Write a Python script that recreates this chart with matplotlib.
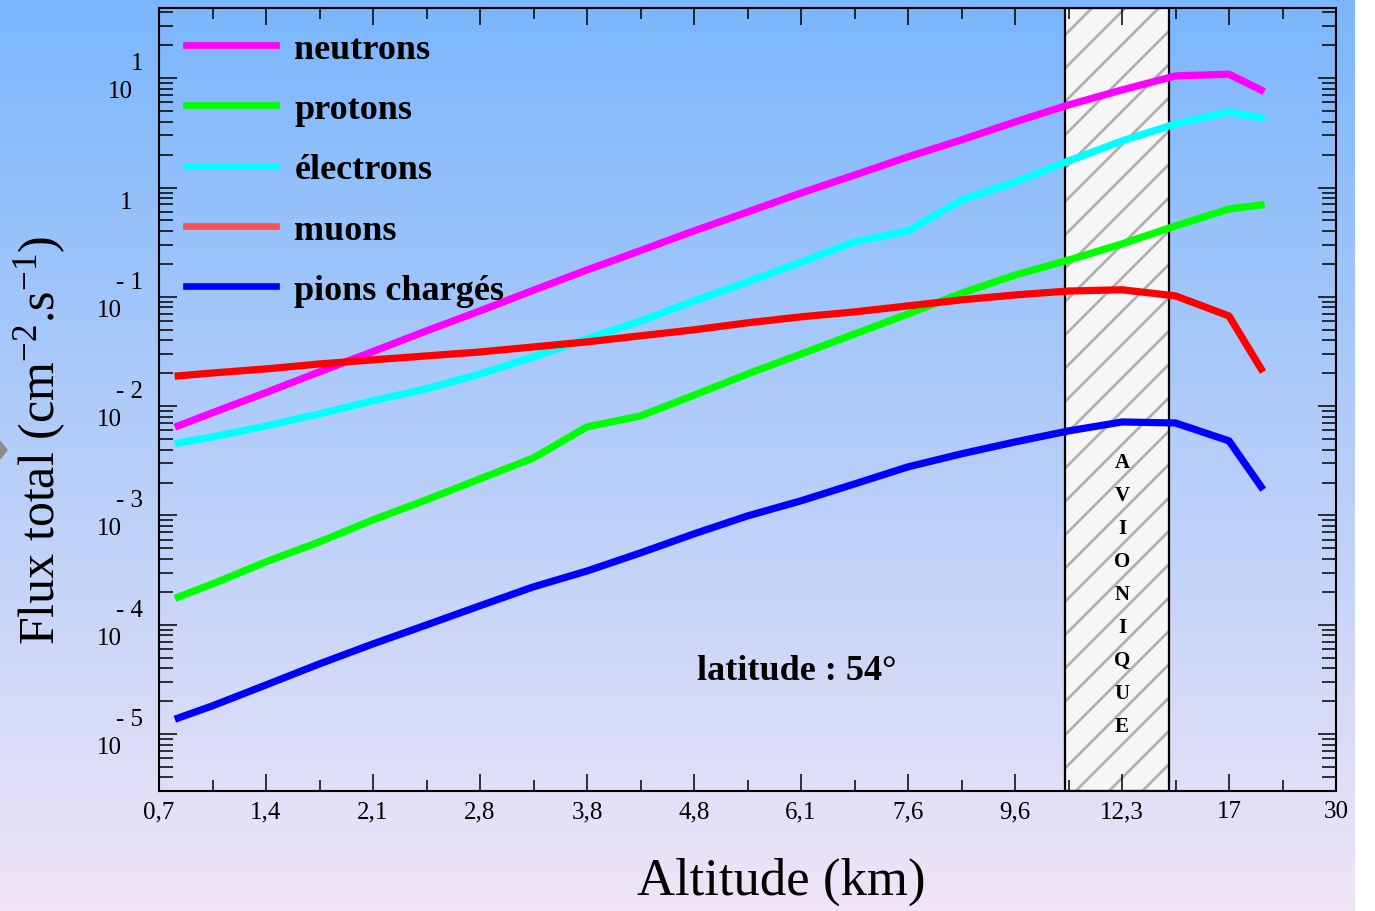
import numpy as np
import matplotlib.pyplot as plt
from matplotlib.lines import Line2D
from matplotlib.patches import Polygon
from matplotlib.ticker import LogLocator, NullFormatter, FixedLocator

plt.rcParams['font.family'] = ['Liberation Serif', 'DejaVu Serif']
plt.rcParams['mathtext.fontset'] = 'custom'
plt.rcParams['mathtext.rm'] = 'Liberation Serif'
plt.rcParams['mathtext.default'] = 'regular'
plt.rcParams['hatch.linewidth'] = 2.0

# altitude tick labels (evenly spaced on the axis)
alt_labels = ['0,7', '1,4', '2,1', '2,8', '3,8', '4,8', '6,1', '7,6', '9,6', '12,3', '17', '30']

# sample positions along the altitude axis (in tick units)
pos = [0.18, 0.5, 1, 1.5, 2, 2.5, 3, 3.5, 4, 4.5, 5, 5.5, 6, 6.5, 7, 7.5, 8, 8.5, 9, 9.5, 10, 10.3]

# total flux (cm-2.s-1)
neutrons = [6.6e-3, 8.7e-3, 1.33e-2, 2.06e-2, 3.16e-2, 4.88e-2, 7.43e-2, 0.115, 0.176, 0.265, 0.401,
            0.597, 0.891, 1.30, 1.91, 2.73, 3.98, 5.70, 7.82, 10.5, 10.9, 7.8]
protons = [1.79e-4, 2.36e-4, 3.76e-4, 5.73e-4, 9.1e-4, 1.39e-3, 2.16e-3, 3.36e-3, 6.46e-3, 8.13e-3, 1.26e-2,
           1.97e-2, 3.0e-2, 4.57e-2, 6.97e-2, 0.108, 0.158, 0.217, 0.305, 0.446, 0.637, 0.693]
electrons = [4.60e-3, 5.22e-3, 6.59e-3, 8.49e-3, 1.12e-2, 1.44e-2, 1.97e-2, 2.82e-2, 4.12e-2, 6.01e-2, 9.16e-2,
             0.137, 0.208, 0.318, 0.401, 0.769, 1.12, 1.75, 2.67, 3.82, 4.92, 4.34]
muons = [1.89e-2, 2.01e-2, 2.19e-2, 2.43e-2, 2.65e-2, 2.88e-2, 3.13e-2, 3.48e-2, 3.87e-2, 4.40e-2, 4.99e-2,
         5.78e-2, 6.56e-2, 7.28e-2, 8.26e-2, 9.38e-2, 0.104, 0.113, 0.116, 0.102, 0.0668, 0.0219]
pions = [1.40e-5, 1.81e-5, 2.81e-5, 4.38e-5, 6.67e-5, 9.95e-5, 1.49e-4, 2.22e-4, 3.10e-4, 4.54e-4, 6.78e-4,
         9.89e-4, 1.36e-3, 1.94e-3, 2.78e-3, 3.66e-3, 4.70e-3, 5.93e-3, 7.16e-3, 7.01e-3, 4.81e-3, 1.83e-3]

avionics = (8.467, 9.439)

fig = plt.figure(figsize=(13.75, 9.12), dpi=100)

# gradient background
bg = fig.add_axes([0, 0, 1355 / 1375, 1], zorder=-10)
top = np.array([122, 182, 252]) / 255
bot = np.array([240, 229, 246]) / 255
t = np.linspace(0, 1, 256)[:, None]
grad = top * (1 - t) + bot * t
bg.imshow(grad[:, None, :], aspect='auto', extent=[0, 1, 0, 1])
bg.axis('off')

fig.add_artist(Polygon([[0, 1 - 442 / 912], [7 / 1375, 1 - 451 / 912], [0, 1 - 460 / 912]],
                       closed=True, color='#8c8c8c', transform=fig.transFigure))

ax = fig.add_axes([159 / 1375, (912 - 791.7) / 912, (1336 - 159) / 1375, (791.7 - 9.3) / 912])
ax.set_facecolor('none')
ax.set_yscale('log')
ax.set_xlim(0, 11)
ax.set_ylim(10 ** -5.519, 10 ** 1.64)

ax.axvspan(*avionics, facecolor='#f6f6f6', edgecolor='#b0b0b0', hatch='/', lw=0, zorder=1)
ax.axvspan(*avionics, fill=False, edgecolor='black', lw=1.6, zorder=1.5)

series = [('neutrons', neutrons, '#ff00ff', '#ff00ff'),
          ('protons', protons, '#00ff00', '#00ff00'),
          ('électrons', electrons, '#00ffff', '#00ffff'),
          ('muons', muons, '#ff0000', '#ff5050'),
          ('pions chargés', pions, '#0000ff', '#0000ff')]
handles = []
for name, vals, col, lcol in series:
    ax.plot(pos, vals, color=col, lw=5.2, zorder=3)
    handles.append(Line2D([], [], color=lcol, lw=4.8))

ax.legend(handles, [s[0] for s in series], loc='upper left', bbox_to_anchor=(27 / 1177, 1 - 24 / 782),
          borderaxespad=0, borderpad=0, frameon=False, handlelength=2.5, handletextpad=0.5,
          labelspacing=0.75, prop={'weight': 'bold', 'size': 26})

ax.set_xticks(range(len(alt_labels)))
ax.set_xticklabels(alt_labels, fontsize=18)
ax.set_xticks(np.arange(0.5, 11, 1), minor=True)
ax.yaxis.set_major_locator(FixedLocator(10.0 ** np.arange(-5, 2)))
ax.yaxis.set_minor_locator(LogLocator(base=10, subs=np.arange(2, 10), numticks=100))
ax.yaxis.set_minor_formatter(NullFormatter())
ax.tick_params(axis='x', which='major', direction='in', length=12, width=1.1, top=True, pad=7)
ax.tick_params(axis='x', which='minor', direction='in', length=8, width=1.1, top=True)
ax.tick_params(axis='y', which='major', direction='in', length=13, width=1.1, right=True, labelleft=False)
ax.tick_params(axis='y', which='minor', direction='in', length=10, width=1.1, right=True)
for s in ax.spines.values():
    s.set_linewidth(1.5)

# decade labels, exponent written above the "10"
for d in range(-5, 2):
    yv = 10.0 ** d
    if d == 0:
        ax.annotate('1', xy=(0, yv), xycoords=('axes fraction', 'data'), xytext=(-27, -14),
                    textcoords='offset pixels', ha='right', va='center', fontsize=18)
        continue
    ex = '1' if d > 0 else '- %d' % -d
    ax.annotate(ex, xy=(0, yv), xycoords=('axes fraction', 'data'), xytext=(-16, 15),
                textcoords='offset pixels', ha='right', va='center', fontsize=18)
    ax.annotate('10', xy=(0, yv), xycoords=('axes fraction', 'data'), xytext=(-26 if d > 0 else -37, -13),
                textcoords='offset pixels', ha='right', va='center', fontsize=18)

for i, ch in enumerate('AVIONIQUE'):
    ax.text(9.0, (791.7 - (462.7 + 33 * i)) / 782.4, ch, transform=ax.get_xaxis_transform(),
            ha='center', va='center', fontsize=15, fontweight='bold', zorder=4)

ax.text(0.457, 0.153, 'latitude : 54°', transform=ax.transAxes, fontsize=26, fontweight='bold',
        ha='left', va='center')

fig.text(40 / 1375, 1 - 440 / 912, 'Flux total (cm$^{-2}$.s$^{-1}$)', rotation=90,
         ha='center', va='center', fontsize=36)
fig.text(781 / 1375, 1 - 882 / 912, 'Altitude (km)', ha='center', va='center', fontsize=38)

fig.savefig('out.png', dpi=100)
